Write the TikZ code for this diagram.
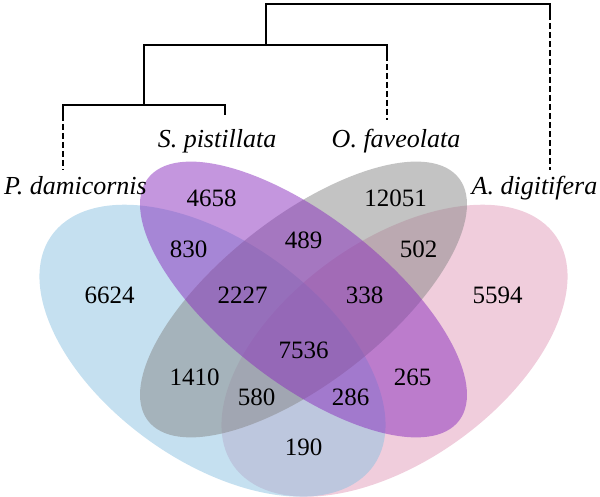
\documentclass[tikz,border=0pt]{standalone}
\usepackage{fontspec}
\setmainfont{Liberation Serif}
\definecolor{pinkset}{RGB}{225,155,185}
\definecolor{blueset}{RGB}{139,193,225}
\definecolor{grayset}{RGB}{135,135,135}
\definecolor{purpleset}{RGB}{137,45,189}
\begin{document}
\begin{tikzpicture}[x=1pt,y=1pt,
  num/.style={font=\fontsize{25}{30}\selectfont, anchor=base, inner sep=0pt},
  spname/.style={font=\fontsize{26}{31}\selectfont\itshape, anchor=base, inner sep=0pt},
  treeline/.style={line width=1.8pt, line join=miter},
  dashtree/.style={line width=1.8pt, dash pattern=on 6pt off 3pt},
  setfill/.style={fill opacity=0.5, draw=none}]
\useasboundingbox (0,0) rectangle (600,497);
% sets
\fill[setfill, fill=pinkset, shift={(394.5,146.3)}, xscale=607, yscale=512, rotate=45] (0,0) ellipse [x radius=0.35pt, y radius=0.2pt];
\fill[setfill, fill=blueset, shift={(212.5,146.3)}, xscale=607, yscale=512, rotate=-45] (0,0) ellipse [x radius=0.35pt, y radius=0.2pt];
\fill[setfill, fill=grayset, shift={(303.5,197.5)}, xscale=607, yscale=512, rotate=45] (0,0) ellipse [x radius=0.35pt, y radius=0.15pt];
\fill[setfill, fill=purpleset, shift={(303.5,197.5)}, xscale=607, yscale=512, rotate=-45] (0,0) ellipse [x radius=0.35pt, y radius=0.15pt];
% numbers
\node[num] (n4658) at (211.5,290.6) {4658};
\node[num] (n12051) at (395.5,290.6) {12051};
\node[num] (n830) at (188.5,239.6) {830};
\node[num] (n502) at (418.5,239.6) {502};
\node[num] (n489) at (303.5,248.6) {489};
\node[num] (n6624) at (109.5,193.6) {6624};
\node[num] (n5594) at (497.5,193.6) {5594};
\node[num] (n2227) at (242.5,193.6) {2227};
\node[num] (n338) at (364.5,193.6) {338};
\node[num] (n7536) at (303.5,138.6) {7536};
\node[num] (n1410) at (194.5,111.6) {1410};
\node[num] (n265) at (412.5,111.6) {265};
\node[num] (n580) at (256.5,91.6) {580};
\node[num] (n286) at (350.5,91.6) {286};
\node[num] (n190) at (303.5,41.6) {190};
% species labels
\node[spname] (lp) at (75.5,302) {P. damicornis};
\node[spname] (ls) at (217,349) {S. pistillata};
\node[spname] (lo) at (396,349) {O. faveolata};
\node[spname] (la) at (534.5,302) {A. digitifera};
% tree
\coordinate (t1) at (266,493);
\coordinate (t2) at (550,493);
\coordinate (t0) at (266,452);
\coordinate (b1) at (144,452);
\coordinate (b2) at (387,452);
\coordinate (b0) at (144,392);
\coordinate (c1) at (63,392);
\coordinate (c2) at (225,392);
\coordinate (pS) at (63,382);
\coordinate (pE) at (63,327);
\coordinate (sS) at (225,382);
\coordinate (oS) at (387,442);
\coordinate (oE) at (387,377);
\coordinate (aS) at (550,483);
\coordinate (aE) at (550,327);
\draw[treeline] (pS) -- (c1) -- (c2) -- (sS);
\draw[treeline] (b0) -- (b1) -- (b2) -- (oS);
\draw[treeline] (t0) -- (t1) -- (t2) -- (aS);
\draw[dashtree] (pS) -- (pE);
\draw[dashtree] (oS) -- (oE);
\draw[dashtree] (aS) -- (aE);
\end{tikzpicture}
\end{document}
